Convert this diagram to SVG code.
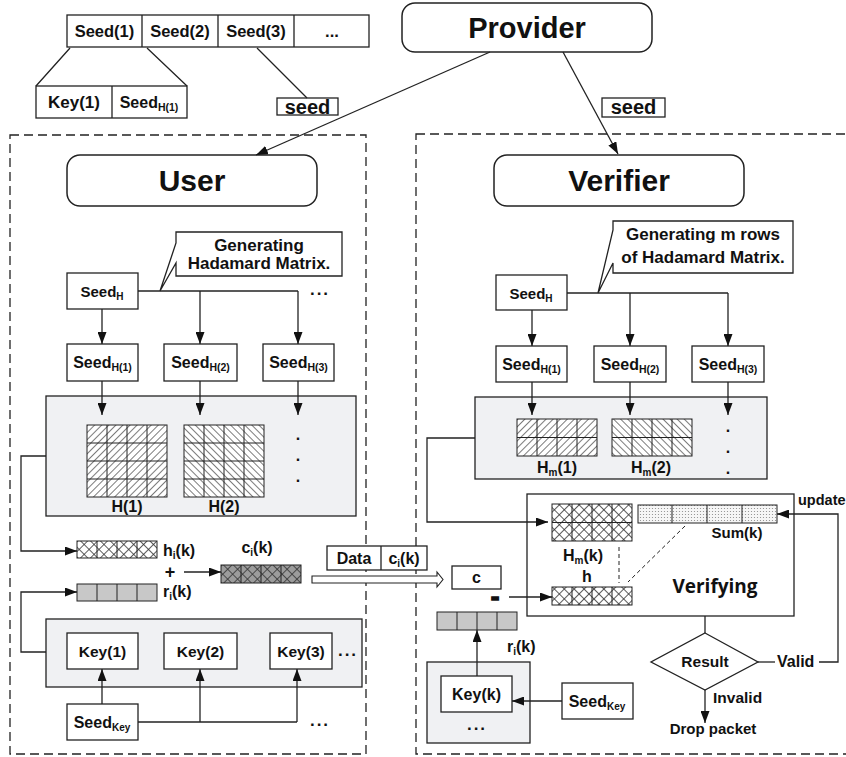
<svg xmlns="http://www.w3.org/2000/svg" width="846" height="757" viewBox="0 0 846 757">
<style>
text{font-family:"Liberation Sans",Arial,sans-serif;font-weight:bold;fill:#111}
.box{fill:#fff;stroke:#222;stroke-width:1.3}
.rbox{fill:#fff;stroke:#222;stroke-width:1.5}
.panel{fill:#f0f1f3;stroke:#222;stroke-width:1.3}
.dash{fill:none;stroke:#222;stroke-width:1.3;stroke-dasharray:9 5}
.ln{fill:none;stroke:#222;stroke-width:1.3}
.arr{fill:none;stroke:#222;stroke-width:1.3;marker-end:url(#ah)}
.grid{fill:none;stroke:#222;stroke-width:1}
.dl{fill:none;stroke:#222;stroke-width:1;stroke-dasharray:4 3}
.c{text-anchor:middle}
</style>
<defs>
<marker id="ah" viewBox="0 0 12 9" markerWidth="12" markerHeight="9" refX="12" refY="4.5" orient="auto" markerUnits="userSpaceOnUse"><path d="M0,0L12,4.5L0,9z" fill="#111"/></marker>
<pattern id="fw" width="5" height="5" patternUnits="userSpaceOnUse" patternTransform="rotate(45)"><rect width="5" height="5" fill="#fff"/><line x1="2.5" y1="0" x2="2.5" y2="5" stroke="#444" stroke-width="0.7"/></pattern>
<pattern id="bw" width="5" height="5" patternUnits="userSpaceOnUse" patternTransform="rotate(-45)"><rect width="5" height="5" fill="#fff"/><line x1="2.5" y1="0" x2="2.5" y2="5" stroke="#444" stroke-width="0.7"/></pattern>
<pattern id="xh" width="7" height="7" patternUnits="userSpaceOnUse" patternTransform="rotate(45)"><rect width="7" height="7" fill="#fff"/><path d="M3.5,0V7M0,3.5H7" stroke="#333" stroke-width="0.8"/></pattern>
<pattern id="xd" width="7" height="7" patternUnits="userSpaceOnUse" patternTransform="rotate(45)"><rect width="7" height="7" fill="#9c9c9c"/><path d="M3.5,0V7M0,3.5H7" stroke="#333" stroke-width="0.8"/></pattern>
<pattern id="dt" width="3" height="3" patternUnits="userSpaceOnUse"><rect width="3" height="3" fill="#f6f6f6"/><circle cx="1.5" cy="1.5" r="0.6" fill="#888"/></pattern>
</defs>

<!-- containers -->
<rect id="userArea" class="dash" x="10" y="135" width="356" height="619"/>
<rect id="verifierArea" class="dash" x="416" y="134" width="440" height="620"/>

<!-- seed table -->
<g id="seedTable">
<rect class="box" x="67" y="15" width="302" height="32"/>
<path class="ln" d="M142,15V47M218,15V47M294,15V47"/>
<text class="c" x="104.5" y="37" font-size="16.5">Seed(1)</text>
<text class="c" x="180" y="37" font-size="16.5">Seed(2)</text>
<text class="c" x="256" y="37" font-size="16.5">Seed(3)</text>
<text class="c" x="332" y="37" font-size="16.5">...</text>
</g>
<g id="seedDetail">
<rect class="box" x="36" y="86" width="151" height="32"/>
<path class="ln" d="M112,86V118"/>
<text class="c" x="74" y="108" font-size="17">Key(1)</text>
<text class="c" x="149" y="108" font-size="16">Seed<tspan font-size="10.5" dy="3">H(1)</tspan></text>
</g>
<g id="seedLabelL">
<rect class="box" x="277" y="98" width="61" height="17"/>
<text class="c" x="307.5" y="114" font-size="20">seed</text>
</g>
<g id="seedLabelR">
<rect class="box" x="602" y="98" width="63" height="19"/>
<text class="c" x="633.5" y="114" font-size="20">seed</text>
</g>

<g id="provider">
<rect class="rbox" x="402" y="3" width="250" height="49" rx="13"/>
<text class="c" x="527" y="38" font-size="29">Provider</text>
</g>
<g id="user">
<rect class="rbox" x="67" y="155" width="250" height="51" rx="13"/>
<text class="c" x="192" y="191" font-size="30">User</text>
</g>
<g id="verifier">
<rect class="rbox" x="494" y="155" width="250" height="51" rx="13"/>
<text class="c" x="619" y="191" font-size="30">Verifier</text>
</g>

<!-- callouts -->
<g id="calloutUser">
<path class="box" d="M176,232H342V276H176V263L160,291L176,243Z"/>
<text class="c" x="259" y="251" font-size="17">Generating</text>
<text class="c" x="259" y="269" font-size="17">Hadamard Matrix.</text>
</g>
<g id="calloutVerifier">
<path class="box" d="M613,221H793V273H613V263L598,293L613,230Z"/>
<text class="c" x="703" y="240" font-size="17">Generating m rows</text>
<text class="c" x="703" y="263" font-size="17">of Hadamard Matrix.</text>
</g>

<!-- user side -->
<g id="uSeedH"><rect class="box" x="67" y="273" width="71" height="36"/><text class="c" x="102" y="297" font-size="15">Seed<tspan font-size="10" dy="3">H</tspan></text></g>
<g id="uSeedH1"><rect class="box" x="67" y="344" width="71" height="37"/><text class="c" x="102.5" y="368" font-size="16">Seed<tspan font-size="10.5" dy="3">H(1)</tspan></text></g>
<g id="uSeedH2"><rect class="box" x="164" y="344" width="73" height="37"/><text class="c" x="200.5" y="368" font-size="16">Seed<tspan font-size="10.5" dy="3">H(2)</tspan></text></g>
<g id="uSeedH3"><rect class="box" x="263" y="344" width="71" height="37"/><text class="c" x="298.5" y="368" font-size="16">Seed<tspan font-size="10.5" dy="3">H(3)</tspan></text></g>
<text x="320" y="295" font-size="17" class="c" letter-spacing="2">...</text>

<g id="uMatrixPanel">
<rect class="panel" x="46" y="396" width="310" height="120"/>
<rect x="87" y="425" width="80" height="72" fill="url(#fw)" stroke="#222" stroke-width="1"/>
<path class="grid" d="M107,425V497M127,425V497M147,425V497M87,443H167M87,461H167M87,479H167"/>
<rect x="184" y="425" width="80" height="72" fill="url(#bw)" stroke="#222" stroke-width="1"/>
<path class="grid" d="M204,425V497M224,425V497M244,425V497M184,443H264M184,461H264M184,479H264"/>
<text class="c" x="127" y="512" font-size="16">H(1)</text>
<text class="c" x="224" y="512" font-size="16">H(2)</text>
<text class="c" x="298" y="440" font-size="16">.</text>
<text class="c" x="298" y="461" font-size="16">.</text>
<text class="c" x="298" y="482" font-size="16">.</text>
</g>

<g id="hik">
<rect x="77" y="541" width="80" height="17" fill="url(#xh)" stroke="#222" stroke-width="1"/>
<path class="grid" d="M97,541V558M117,541V558M137,541V558"/>
<text x="163" y="556" font-size="16">h<tspan font-size="10" dy="3">i</tspan><tspan dy="-3">(k)</tspan></text>
</g>
<text class="c" x="170" y="578" font-size="18">+</text>
<g id="cik">
<rect x="221" y="565" width="80" height="18" fill="url(#xd)" stroke="#222" stroke-width="1"/>
<path class="grid" d="M241,565V583M261,565V583M281,565V583"/>
<text class="c" x="257" y="553" font-size="16">c<tspan font-size="10" dy="3">i</tspan><tspan dy="-3">(k)</tspan></text>
</g>
<g id="rikU">
<rect x="77" y="584" width="80" height="17" fill="#c8c8c8" stroke="#222" stroke-width="1"/>
<path class="grid" d="M97,584V601M117,584V601M137,584V601"/>
<text x="163" y="597" font-size="16">r<tspan font-size="10" dy="3">i</tspan><tspan dy="-3">(k)</tspan></text>
</g>

<g id="uKeyPanel">
<rect class="panel" x="46" y="619" width="316" height="68"/>
<rect class="box" x="67" y="633" width="71" height="36"/><text class="c" x="102.5" y="657" font-size="15.5">Key(1)</text>
<rect class="box" x="164" y="633" width="73" height="36"/><text class="c" x="200.5" y="657" font-size="15.5">Key(2)</text>
<rect class="box" x="270" y="633" width="62" height="36"/><text class="c" x="301" y="657" font-size="15.5">Key(3)</text>
<text class="c" x="348" y="656" font-size="17" letter-spacing="2">...</text>
</g>
<g id="uSeedKey"><rect class="box" x="67" y="704" width="71" height="36"/><text class="c" x="102" y="728" font-size="16">Seed<tspan font-size="10" dy="3">Key</tspan></text></g>
<text class="c" x="320" y="726" font-size="17" letter-spacing="2">...</text>

<g id="packet">
<rect class="box" x="327" y="546" width="100" height="24"/>
<path class="ln" d="M381,546V570"/>
<text class="c" x="354" y="564" font-size="16">Data</text>
<text class="c" x="404" y="564" font-size="16">c<tspan font-size="10" dy="3">i</tspan><tspan dy="-3">(k)</tspan></text>
<path d="M312,576H437V572L443,579.5L437,587V583H312Z" fill="#fff" stroke="#222" stroke-width="1.1"/>
</g>

<!-- verifier side -->
<g id="vSeedH"><rect class="box" x="496" y="275" width="71" height="35"/><text class="c" x="531" y="299" font-size="15">Seed<tspan font-size="10" dy="3">H</tspan></text></g>
<g id="vSeedH1"><rect class="box" x="496" y="346" width="71" height="36"/><text class="c" x="531.5" y="370" font-size="16">Seed<tspan font-size="10.5" dy="3">H(1)</tspan></text></g>
<g id="vSeedH2"><rect class="box" x="594" y="346" width="72" height="36"/><text class="c" x="630" y="370" font-size="16">Seed<tspan font-size="10.5" dy="3">H(2)</tspan></text></g>
<g id="vSeedH3"><rect class="box" x="692" y="346" width="72" height="36"/><text class="c" x="728" y="370" font-size="16">Seed<tspan font-size="10.5" dy="3">H(3)</tspan></text></g>

<g id="vMatrixPanel">
<rect class="panel" x="475" y="397" width="292" height="82"/>
<rect x="517" y="419" width="80" height="37" fill="url(#fw)" stroke="#222" stroke-width="1"/>
<path class="grid" d="M537,419V456M557,419V456M577,419V456M517,437.5H597"/>
<rect x="612" y="419" width="80" height="37" fill="url(#bw)" stroke="#222" stroke-width="1"/>
<path class="grid" d="M632,419V456M652,419V456M672,419V456M612,437.5H692"/>
<text class="c" x="557" y="473" font-size="16">H<tspan font-size="10" dy="3">m</tspan><tspan dy="-3">(1)</tspan></text>
<text class="c" x="651" y="473" font-size="16">H<tspan font-size="10" dy="3">m</tspan><tspan dy="-3">(2)</tspan></text>
<text class="c" x="728" y="432" font-size="16">.</text>
<text class="c" x="728" y="453" font-size="16">.</text>
<text class="c" x="728" y="474" font-size="16">.</text>
</g>

<g id="verifying">
<rect class="box" x="527" y="494" width="267" height="122"/>
<rect x="552" y="504" width="80" height="37" fill="url(#xh)" stroke="#222" stroke-width="1"/>
<path class="grid" d="M572,504V541M592,504V541M612,504V541M552,522.5H632"/>
<rect x="638" y="505" width="139" height="18" fill="url(#dt)" stroke="#222" stroke-width="1"/>
<path class="grid" d="M672,505V523M707,505V523M742,505V523"/>
<text class="c" x="737" y="538" font-size="15">Sum(k)</text>
<text class="c" x="583" y="561" font-size="16">H<tspan font-size="10" dy="3">m</tspan><tspan dy="-3">(k)</tspan></text>
<text class="c" x="587" y="582" font-size="16">h</text>
<rect x="552" y="587" width="80" height="18" fill="url(#xh)" stroke="#222" stroke-width="1"/>
<path class="grid" d="M572,587V605M592,587V605M612,587V605"/>
<text class="c" x="715" y="593" font-size="19" style="font-family:'Open Sans','Liberation Sans',sans-serif">Verifying</text>
<path class="dl" d="M619,547V583M685,526L628,582"/>
</g>

<g id="cBox"><rect class="box" x="452" y="566" width="49" height="23"/><text class="c" x="476.5" y="583" font-size="16">c</text></g>
<text class="c" x="495" y="605" font-size="26" stroke="#111" stroke-width="1.4">-</text>
<g id="rikV">
<rect x="437" y="612" width="80" height="18" fill="#c8c8c8" stroke="#222" stroke-width="1"/>
<path class="grid" d="M457,612V630M477,612V630M497,612V630"/>
<text x="507" y="652" font-size="16">r<tspan font-size="10" dy="3">i</tspan><tspan dy="-3">(k)</tspan></text>
</g>
<g id="vKeyPanel">
<rect class="panel" x="427" y="662" width="103" height="81"/>
<rect class="box" x="441" y="676" width="71" height="36"/><text class="c" x="476.5" y="700" font-size="16">Key(k)</text>
<text class="c" x="477" y="730" font-size="17" letter-spacing="2">...</text>
</g>
<g id="vSeedKey"><rect class="box" x="562" y="683" width="71" height="36"/><text class="c" x="597" y="707" font-size="16">Seed<tspan font-size="10" dy="3">Key</tspan></text></g>

<g id="result">
<path class="box" d="M705,633L758,662L705,690L651,662Z"/>
<text class="c" x="705" y="667" font-size="15.5">Result</text>
</g>
<text x="777" y="667" font-size="16">Valid</text>
<text x="713" y="703" font-size="15.5">Invalid</text>
<text class="c" x="713" y="734" font-size="15">Drop packet</text>
<text x="798" y="505" font-size="14.5">update</text>

<!-- connectors -->
<g id="connectors">
<path class="ln" d="M70,48L36,86M147,48L187,86M257,48L307,98"/>
<path class="arr" d="M490,52L256,155"/>
<path class="arr" d="M563,52L618,154"/>
<path class="ln" d="M138,291H298"/>
<path class="arr" d="M102,309V344"/>
<path class="arr" d="M200,291V344"/>
<path class="arr" d="M298,291V344"/>
<path class="arr" d="M102,381V415"/>
<path class="arr" d="M200,381V415"/>
<path class="arr" d="M298,381V415"/>
<path class="arr" d="M46,456H21V551H77"/>
<path class="arr" d="M184,572H221"/>
<path class="arr" d="M46,652H21V592H77"/>
<path class="ln" d="M138,722H297"/>
<path class="arr" d="M102,704V669"/>
<path class="arr" d="M200,722V669"/>
<path class="arr" d="M297,722V669"/>
<path class="ln" d="M567,293H728"/>
<path class="arr" d="M532,310V346"/>
<path class="arr" d="M630,293V346"/>
<path class="arr" d="M728,293V346"/>
<path class="arr" d="M532,382V415"/>
<path class="arr" d="M630,382V415"/>
<path class="arr" d="M728,382V415"/>
<path class="arr" d="M475,438H427V522H548"/>
<path class="arr" d="M509,597H552"/>
<path class="arr" d="M477,676V630"/>
<path class="arr" d="M562,701H512"/>
<path class="ln" d="M705,616V633"/>
<path class="ln" d="M758,662H775"/>
<path class="arr" d="M819,662H838V514H777"/>
<path class="arr" d="M705,690V723"/>
</g>
</svg>
